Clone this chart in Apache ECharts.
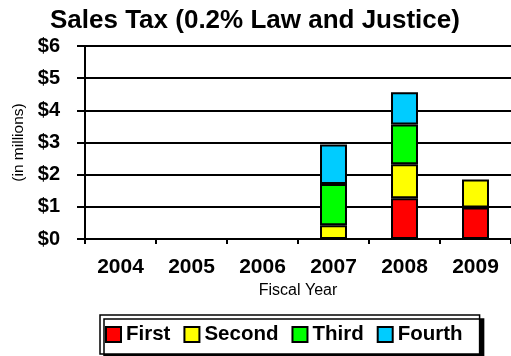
<!DOCTYPE html>
<html><head><meta charset="utf-8">
<script src="https://cdn.jsdelivr.net/npm/echarts@6/dist/echarts.min.js"></script>
<style>html,body{margin:0;padding:0;background:#fff}#c{width:511px;height:356px}</style>
</head><body><div id="c"></div>
<script>
const categories = ['2004', '2005', '2006', '2007', '2008', '2009'];
const first  = [null, null, null, null, 1.27, 0.98];
const second = [null, null, null, 0.43, 1.05, 0.87];
const third  = [null, null, null, 1.28, 1.24, null];
const fourth = [null, null, null, 1.23, 1.00, null];
const yTicks = ['$0', '$1', '$2', '$3', '$4', '$5', '$6'];

const F = 'Liberation Sans, Arial, sans-serif';
const chart = echarts.init(document.getElementById('c'));
function s(name, data, color) {
  return {
    name, type: 'bar', stack: 'a', data, barWidth: '38%',
    itemStyle: { color, borderColor: '#000', borderWidth: 2 }
  };
}
chart.setOption({
  animation: false,
  title: {
    text: 'Sales Tax (0.2% Law and Justice)', left: 50, top: 8, padding: 0,
    textStyle: { fontFamily: F, fontSize: 26, fontWeight: 'bold', color: '#000' }
  },
  grid: { left: 85, right: -2, top: 46, height: 193 },
  xAxis: {
    type: 'category', data: categories,
    name: 'Fiscal Year', nameLocation: 'middle', nameGap: 42,
    nameTextStyle: { fontFamily: F, fontSize: 16, color: '#000' },
    axisLine: { lineStyle: { color: '#000', width: 2 } },
    axisTick: { show: true, length: 5, lineStyle: { color: '#000', width: 2 } },
    axisLabel: { fontFamily: F, fontSize: 21, fontWeight: 'bold', color: '#000', margin: 18 }
  },
  yAxis: {
    type: 'value', min: 0, max: 6, interval: 1,
    name: '(in millions)', nameLocation: 'middle', nameGap: 57, nameRotate: 90,
    nameTextStyle: { fontFamily: F, fontSize: 15.5, color: '#000' },
    axisLine: { show: true, lineStyle: { color: '#000', width: 2 } },
    axisTick: { show: true, length: 8, lineStyle: { color: '#000', width: 2 } },
    splitLine: { lineStyle: { color: '#000', width: 2 } },
    axisLabel: {
      fontFamily: F, fontSize: 20, fontWeight: 'bold', color: '#000', margin: 25,
      formatter: v => yTicks[v]
    }
  },
  legend: {
    left: 100, top: 315, width: 400,
    padding: [9, 17, 9, 5],
    itemWidth: 15, itemHeight: 15, itemGap: 13, icon: 'rect',
    borderColor: '#000', borderWidth: 1.5, backgroundColor: '#fff',
    shadowColor: '#000', shadowOffsetX: 4, shadowOffsetY: 4, shadowBlur: 0,
    itemStyle: { borderColor: '#000', borderWidth: 2 },
    textStyle: { fontFamily: F, fontSize: 20.5, fontWeight: 'bold', color: '#000' }
  },
  series: [
    s('First', first, '#ff0000'),
    s('Second', second, '#ffff00'),
    s('Third', third, '#00ff00'),
    s('Fourth', fourth, '#00ccff')
  ]
});
</script></body></html>
